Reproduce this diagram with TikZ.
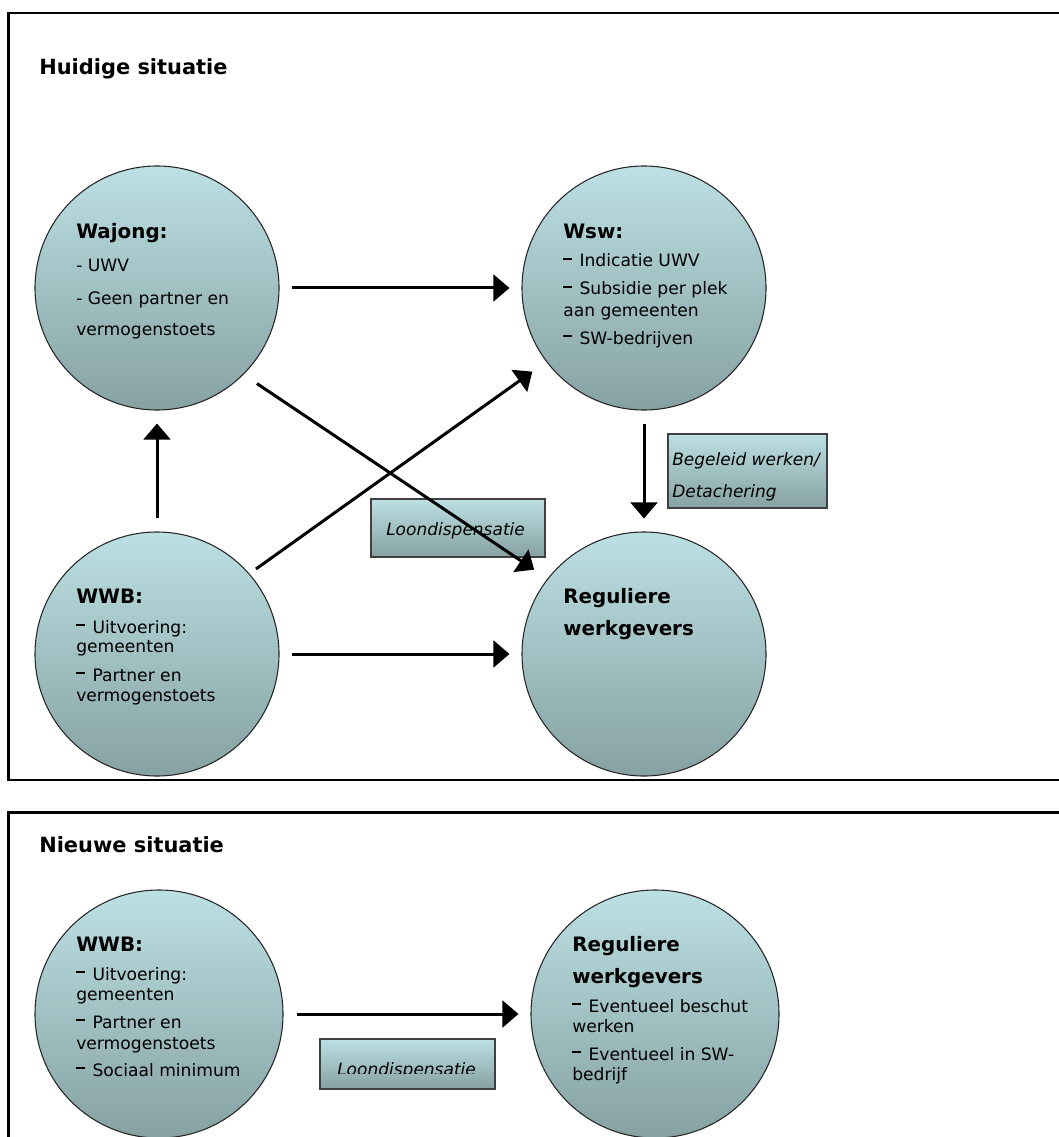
\documentclass[tikz,border=0pt]{standalone}
\usepackage{fontspec}
\setmainfont{DejaVu Sans}
\usetikzlibrary{arrows.meta}
\definecolor{ctop}{RGB}{188,224,228}
\definecolor{cbot}{RGB}{134,161,162}
\newcommand{\rdash}{\rule[0.42em]{0.53em}{0.11em}\hspace{0.42em}}
\begin{document}
\begin{tikzpicture}[x=0.75pt,y=-0.75pt,
  circ/.style={circle, draw=black!85, line width=0.8pt, top color=ctop, bottom color=cbot, minimum size=183pt, inner sep=0pt},
  lbox/.style={rectangle, draw=black!75, line width=0.9pt, top color=ctop, bottom color=cbot, inner sep=0pt},
  panel/.style={draw=black, line width=1.6pt},
  arr/.style={line width=2.25pt, -{Triangle[length=12pt,width=20pt]}},
  body/.style={anchor=base west, inner sep=0pt, font=\fontsize{12.85pt}{15pt}\selectfont},
  head/.style={anchor=base west, inner sep=0pt, font=\fontsize{14.9pt}{18pt}\selectfont\bfseries},
  title/.style={anchor=base west, inner sep=0pt, font=\fontsize{15.7pt}{19pt}\selectfont\bfseries},
  ital/.style={anchor=base west, inner sep=0pt, font=\fontsize{12.75pt}{15pt}\selectfont\itshape},
]
\useasboundingbox (0,0) rectangle (1058,1137);

% panels
\draw[panel] (8.5,13) rectangle (1075,780);
\draw[panel] (8.5,812.5) rectangle (1075,1160);

% titles
\node[title] (t1) at (39,75) {Huidige situatie};
\node[title] (t2) at (39,852) {Nieuwe situatie};

% circles (top)
\node[circ] (wajong) at (157,288) {};
\node[circ] (wsw) at (644,288) {};
\node[circ] (wwb) at (157,654) {};
\node[circ] (reg) at (644,654) {};

% circles (bottom)
\node[circ, minimum size=186pt] (wwb2) at (159,1014) {};
\node[circ, minimum size=186pt] (reg2) at (655,1014) {};

% boxes
\node[lbox, minimum width=130.5pt, minimum height=43.5pt] (box1) at (458,528) {};
\node[lbox, minimum width=119.25pt, minimum height=55.5pt] (box2) at (747.5,471) {};
\node[lbox, minimum width=131.25pt, minimum height=37.5pt] (box3) at (407.5,1064) {};

% Wajong text
\node[head] (wa0) at (76,239) {Wajong:};
\node[body] (wa1) at (76,272) {- UWV};
\node[body] (wa2) at (76,305) {- Geen partner en};
\node[body] (wa3) at (76,335) {vermogenstoets};

% Wsw text
\node[head] (ws0) at (563,239) {Wsw:};
\node[body] (ws1) at (563,267) {\rdash Indicatie UWV};
\node[body] (ws2) at (563,295) {\rdash Subsidie per plek};
\node[body] (ws3) at (563,316) {aan gemeenten};
\node[body] (ws4) at (563,344) {\rdash SW-bedrijven};

% WWB text (top)
\node[head] (wb0) at (76,603) {WWB:};
\node[body] (wb1) at (76,633) {\rdash Uitvoering:};
\node[body] (wb2) at (76,652) {gemeenten};
\node[body] (wb3) at (76,681) {\rdash Partner en};
\node[body] (wb4) at (76,701) {vermogenstoets};

% Reguliere text (top)
\node[head] (rg0) at (563,603) {Reguliere};
\node[head] (rg1) at (563,635) {werkgevers};

% box texts (top)
\node[ital] (b1t) at (386,535) {Loondispensatie};
\node[ital] (b2t1) at (672,465) {Begeleid werken/};
\node[ital] (b2t2) at (672,497) {Detachering};

% WWB text (bottom)
\node[head] (xb0) at (76,951) {WWB:};
\node[body] (xb1) at (76,980) {\rdash Uitvoering:};
\node[body] (xb2) at (76,1000) {gemeenten};
\node[body] (xb3) at (76,1028) {\rdash Partner en};
\node[body] (xb4) at (76,1049) {vermogenstoets};
\node[body] (xb5) at (76,1076) {\rdash Sociaal minimum};

% Reguliere text (bottom)
\node[head] (xr0) at (572,951) {Reguliere};
\node[head] (xr1) at (572,983) {werkgevers};
\node[body] (xr2) at (572,1012) {\rdash Eventueel beschut};
\node[body] (xr3) at (572,1032) {werken};
\node[body] (xr4) at (572,1060) {\rdash Eventueel in SW-};
\node[body] (xr5) at (572,1080) {bedrijf};

% clipped box text (bottom)
\begin{scope}
\clip (320,1039) rectangle (495,1073.5);
\node[ital] (b3t) at (337,1075) {Loondispensatie};
\end{scope}

% arrows (top)
\draw[arr, shorten <=9pt, shorten >=9pt] (wajong.east) -- (wsw.west);
\draw[arr, shorten <=9.75pt, shorten >=9.75pt] (wwb.north) -- (wajong.south);
\draw[arr, shorten <=9.75pt, shorten >=9.75pt] (wsw.south) -- (reg.north);
\draw[arr, shorten <=9pt, shorten >=9pt] (wwb.east) -- (reg.west);
\draw[arr, shorten <=12pt, shorten >=12pt] (wajong.-45) -- (reg.142.6);
\draw[arr, shorten <=6pt, shorten >=12.75pt] (wwb.41.6) -- (wsw.217.7);

% arrow (bottom)
\draw[arr, shorten <=9.75pt, shorten >=9pt] (wwb2.east) -- (reg2.west);
\end{tikzpicture}
\end{document}
